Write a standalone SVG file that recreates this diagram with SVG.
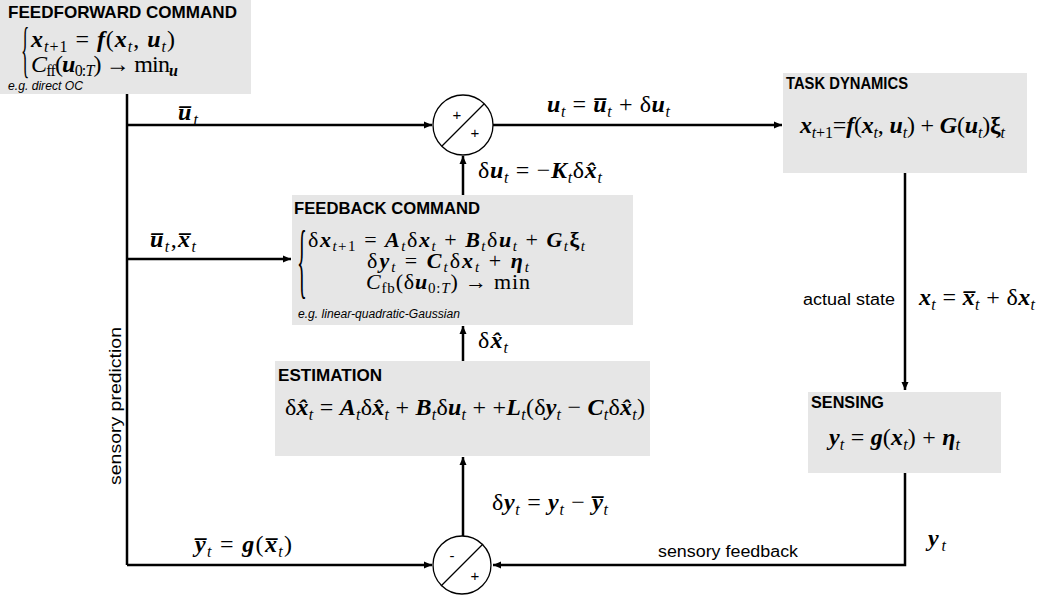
<svg xmlns="http://www.w3.org/2000/svg" width="1038" height="595" viewBox="0 0 1038 595">
  <style>
    text { white-space: pre; fill: #000; }
    .box { fill: #e6e6e6; stroke: none; }
    .ttl { font-family: "Liberation Sans", Arial, sans-serif; font-weight: bold; font-size: 17px; }
    .lbl { font-family: "Liberation Sans", Arial, sans-serif; font-size: 16px; }
    .note { font-family: "Liberation Sans", Arial, sans-serif; font-style: italic; font-size: 12px; }
    .sgn { font-family: "Liberation Sans", Arial, sans-serif; font-size: 15px; }
    .m { font-family: "Liberation Serif", "Times New Roman", serif; font-size: 24px; }
    .mc { font-size: 22px; }
    .v { font-weight: bold; font-style: italic; }
    .i { font-style: italic; }
    .g { font-weight: bold; }
    .s { font-size: 16px; font-style: italic; }
    .mc .s { font-size: 15px; }
    .r { font-style: normal; }
    .br { font-family: "Liberation Serif", "Times New Roman", serif; }
    .wire { fill: none; stroke: #000; stroke-width: 2.5; }
    .arr { fill: none; stroke: #000; stroke-width: 2.5; marker-end: url(#head); }
    .sum { fill: #fff; stroke: #000; stroke-width: 1.3; }
  </style>
  <defs>
    <marker id="head" markerUnits="userSpaceOnUse" markerWidth="9" markerHeight="8" refX="8" refY="4" orient="auto">
      <path d="M0,0.5 L8,4 L0,7.5 z" fill="#000"/>
    </marker>
  </defs>

  <!-- connectors -->
  <g id="connectors">
    <path class="wire" d="M127,94 V565"/>
    <path class="arr" d="M127,125 H432"/>
    <path class="arr" d="M493,125 H782"/>
    <path class="arr" d="M905,173 V390"/>
    <path class="arr" d="M905,473 V565 H493"/>
    <path class="arr" d="M127,565 H432"/>
    <path class="arr" d="M463,536 V457"/>
    <path class="arr" d="M463,361 V326"/>
    <path class="arr" d="M463,195 V156"/>
    <path class="arr" d="M127,259 H291"/>
  </g>

  <!-- connector labels -->
  <g id="labels">
    <text class="m" x="178" y="120" textLength="20" lengthAdjust="spacing"><tspan class="v">u̅</tspan><tspan class="s" dy="5">t</tspan></text>
    <text class="m" x="150" y="247" textLength="46" lengthAdjust="spacing"><tspan class="v">u̅</tspan><tspan class="s" dy="5">t</tspan><tspan dy="-5">,</tspan><tspan class="v">x̅</tspan><tspan class="s" dy="5">t</tspan></text>
    <text class="m" x="547" y="112" textLength="123" lengthAdjust="spacing"><tspan class="v">u</tspan><tspan class="s" dy="5">t</tspan><tspan dy="-5"> = </tspan><tspan class="v">u̅</tspan><tspan class="s" dy="5">t</tspan><tspan dy="-5"> + δ</tspan><tspan class="v">u</tspan><tspan class="s" dy="5">t</tspan></text>
    <text class="m" x="478" y="178" textLength="124" lengthAdjust="spacing">δ<tspan class="v">u</tspan><tspan class="s" dy="5">t</tspan><tspan dy="-5"> = −</tspan><tspan class="v">K</tspan><tspan class="s" dy="5">t</tspan><tspan dy="-5">δ</tspan><tspan class="v">x̂</tspan><tspan class="s" dy="5">t</tspan></text>
    <text class="m" x="478" y="348" textLength="30" lengthAdjust="spacing">δ<tspan class="v">x̂</tspan><tspan class="s" dy="5">t</tspan></text>
    <text class="lbl" x="803" y="305" textLength="92" lengthAdjust="spacingAndGlyphs">actual state</text>
    <text class="m" x="919" y="305" textLength="116" lengthAdjust="spacing"><tspan class="v">x</tspan><tspan class="s" dy="5">t</tspan><tspan dy="-5"> = </tspan><tspan class="v">x̅</tspan><tspan class="s" dy="5">t</tspan><tspan dy="-5"> + δ</tspan><tspan class="v">x</tspan><tspan class="s" dy="5">t</tspan></text>
    <text class="m" x="492" y="510" textLength="116" lengthAdjust="spacing">δ<tspan class="v">y</tspan><tspan class="s" dy="5">t</tspan><tspan dy="-5"> = </tspan><tspan class="v">y</tspan><tspan class="s" dy="5">t</tspan><tspan dy="-5"> − </tspan><tspan class="v">y̅</tspan><tspan class="s" dy="5">t</tspan></text>
    <text class="m" x="195" y="552" textLength="97" lengthAdjust="spacing"><tspan class="v">y̅</tspan><tspan class="s" dy="5">t</tspan><tspan dy="-5"> = </tspan><tspan class="v">g</tspan>(<tspan class="v">x̅</tspan><tspan class="s" dy="5">t</tspan><tspan dy="-5">)</tspan></text>
    <text class="m" x="928" y="546" textLength="18" lengthAdjust="spacing"><tspan class="v">y</tspan><tspan class="s" dy="5">t</tspan></text>
    <text class="lbl" x="658" y="557" textLength="140" lengthAdjust="spacingAndGlyphs">sensory feedback</text>
    <text class="lbl" transform="translate(121,406) rotate(-90)" text-anchor="middle" textLength="158" lengthAdjust="spacingAndGlyphs">sensory prediction</text>
  </g>

  <!-- feedforward command -->
  <g id="feedforward">
    <rect class="box" x="0" y="0" width="251" height="94"/>
    <text class="ttl" x="8" y="18" textLength="229" lengthAdjust="spacingAndGlyphs">FEEDFORWARD COMMAND</text>
    <text class="br" font-size="62" transform="translate(21,70) scale(0.28,1)">{</text>
    <text class="m" x="31" y="47" textLength="144" lengthAdjust="spacing"><tspan class="v">x</tspan><tspan class="s" dy="5">t</tspan><tspan class="s r">+1</tspan><tspan dy="-5"> = </tspan><tspan class="v">f</tspan>(<tspan class="v">x</tspan><tspan class="s" dy="5">t</tspan><tspan dy="-5">, </tspan><tspan class="v">u</tspan><tspan class="s" dy="5">t</tspan><tspan dy="-5">)</tspan></text>
    <text class="m" x="31" y="72" textLength="147" lengthAdjust="spacing"><tspan class="i">C</tspan><tspan class="s r" dy="4">ff</tspan><tspan dy="-4">(</tspan><tspan class="v">u</tspan><tspan class="s r" dy="4">0:</tspan><tspan class="s">T</tspan><tspan dy="-4">) → min</tspan><tspan class="s v" dy="4">u</tspan></text>
    <text class="note" x="8" y="90" textLength="75" lengthAdjust="spacingAndGlyphs">e.g. direct OC</text>
  </g>

  <!-- summing junction: feedforward + feedback -->
  <g id="sum-u">
    <circle class="sum" cx="463" cy="125" r="30"/>
    <path d="M442,146 L484,104" stroke="#000" stroke-width="1.3"/>
    <text class="sgn" x="457" y="120" text-anchor="middle">+</text>
    <text class="sgn" x="475" y="138" text-anchor="middle">+</text>
  </g>

  <!-- task dynamics -->
  <g id="task-dynamics">
    <rect class="box" x="783" y="73" width="244" height="100"/>
    <text class="ttl" x="786" y="89" textLength="122" lengthAdjust="spacingAndGlyphs">TASK DYNAMICS</text>
    <text class="m" x="800" y="133" textLength="205" lengthAdjust="spacing"><tspan class="v">x</tspan><tspan class="s" dy="5">t</tspan><tspan class="s r">+1</tspan><tspan dy="-5">=</tspan><tspan class="v">f</tspan>(<tspan class="v">x</tspan><tspan class="s" dy="5">t</tspan><tspan dy="-5">, </tspan><tspan class="v">u</tspan><tspan class="s" dy="5">t</tspan><tspan dy="-5">) + </tspan><tspan class="v">G</tspan>(<tspan class="v">u</tspan><tspan class="s" dy="5">t</tspan><tspan dy="-5">)</tspan><tspan class="g">ξ</tspan><tspan class="s" dy="5">t</tspan></text>
  </g>

  <!-- feedback command -->
  <g id="feedback">
    <rect class="box" x="292" y="195" width="341" height="130"/>
    <text class="ttl" x="294" y="214" textLength="186" lengthAdjust="spacingAndGlyphs">FEEDBACK COMMAND</text>
    <text class="br" font-size="82" transform="translate(297,288) scale(0.25,1)">{</text>
    <text class="m mc" x="308" y="247" textLength="277" lengthAdjust="spacing">δ<tspan class="v">x</tspan><tspan class="s" dy="4">t</tspan><tspan class="s r">+1</tspan><tspan dy="-4"> = </tspan><tspan class="v">A</tspan><tspan class="s" dy="4">t</tspan><tspan dy="-4">δ</tspan><tspan class="v">x</tspan><tspan class="s" dy="4">t</tspan><tspan dy="-4"> + </tspan><tspan class="v">B</tspan><tspan class="s" dy="4">t</tspan><tspan dy="-4">δ</tspan><tspan class="v">u</tspan><tspan class="s" dy="4">t</tspan><tspan dy="-4"> + </tspan><tspan class="v">G</tspan><tspan class="s" dy="4">t</tspan><tspan class="g" dy="-4">ξ</tspan><tspan class="s" dy="4">t</tspan></text>
    <text class="m mc" x="367" y="268" textLength="162" lengthAdjust="spacing">δ<tspan class="v">y</tspan><tspan class="s" dy="4">t</tspan><tspan dy="-4"> = </tspan><tspan class="v">C</tspan><tspan class="s" dy="4">t</tspan><tspan dy="-4">δ</tspan><tspan class="v">x</tspan><tspan class="s" dy="4">t</tspan><tspan dy="-4"> + </tspan><tspan class="v">η</tspan><tspan class="s" dy="4">t</tspan></text>
    <text class="m mc" x="366" y="289" textLength="164" lengthAdjust="spacing"><tspan class="i">C</tspan><tspan class="s r" dy="4">fb</tspan><tspan dy="-4">(δ</tspan><tspan class="v">u</tspan><tspan class="s r" dy="4">0:</tspan><tspan class="s">T</tspan><tspan dy="-4">) → min</tspan></text>
    <text class="note" x="298" y="318" textLength="162" lengthAdjust="spacingAndGlyphs">e.g. linear-quadratic-Gaussian</text>
  </g>

  <!-- estimation -->
  <g id="estimation">
    <rect class="box" x="275" y="361" width="375" height="95"/>
    <text class="ttl" x="278" y="381" textLength="104" lengthAdjust="spacingAndGlyphs">ESTIMATION</text>
    <text class="m" x="285" y="415" textLength="360" lengthAdjust="spacing">δ<tspan class="v">x̂</tspan><tspan class="s" dy="5">t</tspan><tspan dy="-5"> = </tspan><tspan class="v">A</tspan><tspan class="s" dy="5">t</tspan><tspan dy="-5">δ</tspan><tspan class="v">x̂</tspan><tspan class="s" dy="5">t</tspan><tspan dy="-5"> + </tspan><tspan class="v">B</tspan><tspan class="s" dy="5">t</tspan><tspan dy="-5">δ</tspan><tspan class="v">u</tspan><tspan class="s" dy="5">t</tspan><tspan dy="-5"> + +</tspan><tspan class="v">L</tspan><tspan class="s" dy="5">t</tspan><tspan dy="-5">(δ</tspan><tspan class="v">y</tspan><tspan class="s" dy="5">t</tspan><tspan dy="-5"> − </tspan><tspan class="v">C</tspan><tspan class="s" dy="5">t</tspan><tspan dy="-5">δ</tspan><tspan class="v">x̂</tspan><tspan class="s" dy="5">t</tspan><tspan dy="-5">)</tspan></text>
  </g>

  <!-- sensing -->
  <g id="sensing">
    <rect class="box" x="808" y="392" width="193" height="81"/>
    <text class="ttl" x="811" y="408" textLength="73" lengthAdjust="spacingAndGlyphs">SENSING</text>
    <text class="m" x="829" y="445" textLength="131" lengthAdjust="spacing"><tspan class="v">y</tspan><tspan class="s" dy="5">t</tspan><tspan dy="-5"> = </tspan><tspan class="v">g</tspan>(<tspan class="v">x</tspan><tspan class="s" dy="5">t</tspan><tspan dy="-5">) + </tspan><tspan class="v">η</tspan><tspan class="s" dy="5">t</tspan></text>
  </g>

  <!-- summing junction: prediction error -->
  <g id="sum-y">
    <circle class="sum" cx="462" cy="565" r="29"/>
    <path d="M441,586 L483,544" stroke="#000" stroke-width="1.3"/>
    <text class="sgn" x="452" y="561" text-anchor="middle">-</text>
    <text class="sgn" x="475" y="581" text-anchor="middle">+</text>
  </g>
</svg>
